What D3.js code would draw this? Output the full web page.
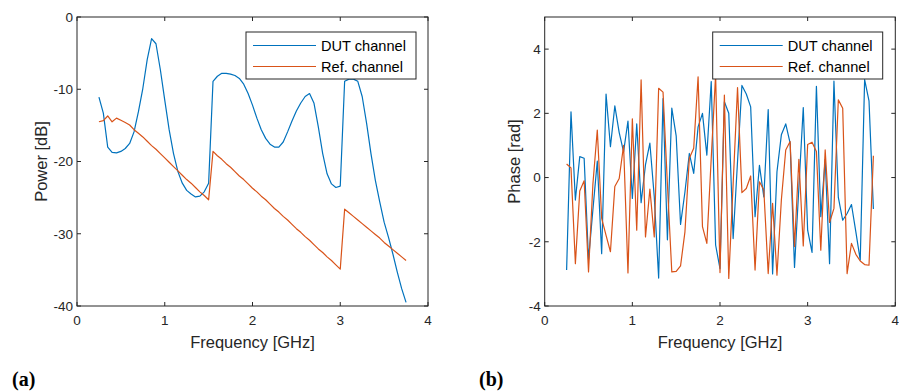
<!DOCTYPE html>
<html><head><meta charset="utf-8">
<script src="https://cdn.jsdelivr.net/npm/d3@7"></script>
<style>body{margin:0;background:#fff}svg{display:block}</style>
</head><body>
<svg id="c" width="899" height="392"></svg>
<script>
const freq = [0.25,0.30,0.35,0.40,0.45,0.50,0.55,0.60,0.65,0.70,0.75,0.80,0.85,0.90,0.95,1.00,1.05,1.10,1.15,1.20,1.25,1.30,1.35,1.40,1.45,1.50,1.55,1.60,1.65,1.70,1.75,1.80,1.85,1.90,1.95,2.00,2.05,2.10,2.15,2.20,2.25,2.30,2.35,2.40,2.45,2.50,2.55,2.60,2.65,2.70,2.75,2.80,2.85,2.90,2.95,3.00,3.05,3.10,3.15,3.20,3.25,3.30,3.35,3.40,3.45,3.50,3.55,3.60,3.65,3.70,3.75];
const dutPower = [-11.1,-13.3,-18.0,-18.75,-18.8,-18.6,-18.2,-17.5,-15.9,-13.1,-9.9,-5.9,-3.0,-3.7,-7.3,-11.5,-15.6,-18.9,-21.4,-23.0,-24.0,-24.5,-24.9,-24.8,-24.2,-23.0,-8.9,-8.2,-7.8,-7.8,-7.9,-8.1,-8.5,-9.3,-10.6,-12.2,-14.0,-15.6,-16.8,-17.6,-18.0,-18.0,-17.3,-15.9,-14.4,-13.0,-11.9,-11.0,-10.6,-11.9,-15.2,-18.9,-21.7,-23.1,-23.6,-23.4,-8.9,-8.6,-8.6,-8.9,-11.0,-14.7,-18.9,-22.6,-25.6,-28.4,-30.5,-32.8,-35.3,-37.6,-39.5];
const refPower = [-14.5,-14.35,-13.7,-14.5,-14.0,-14.3,-14.6,-14.95,-15.6,-16.1,-16.6,-17.2,-17.8,-18.3,-18.9,-19.5,-20.1,-20.7,-21.3,-21.9,-22.5,-23.0,-23.6,-24.2,-24.7,-25.3,-18.6,-19.2,-19.7,-20.3,-20.8,-21.4,-22.0,-22.5,-23.1,-23.7,-24.2,-24.8,-25.3,-25.9,-26.5,-27.0,-27.6,-28.1,-28.7,-29.3,-29.8,-30.4,-30.9,-31.5,-32.1,-32.6,-33.2,-33.7,-34.3,-34.9,-26.6,-27.1,-27.6,-28.1,-28.6,-29.1,-29.6,-30.1,-30.6,-31.2,-31.7,-32.2,-32.7,-33.2,-33.7];
const dutPhase = [-2.88,2.05,-0.70,0.65,0.60,-2.56,-1.0,0.51,-2.37,2.60,0.96,2.23,1.40,0.80,1.76,-0.65,1.67,-0.78,0.40,1.07,-0.60,-3.13,2.46,-1.94,2.16,1.30,-1.46,-0.45,0.75,0.13,1.58,2.00,0.70,2.99,-2.10,-2.84,2.36,2.00,-1.90,0.50,2.87,2.60,2.20,-1.22,0.38,-0.60,2.12,-3.00,0.18,1.33,1.67,1.07,-2.80,-0.30,2.18,-1.64,-2.33,2.84,-1.22,0.57,-2.68,3.00,-0.62,-1.33,-1.12,-0.84,-1.69,-2.57,3.05,2.39,-0.98];
const refPhase = [0.42,0.30,-2.68,-0.42,-0.10,-2.94,-0.20,1.48,-1.27,-1.80,-2.31,-0.28,-0.03,1.00,-2.97,1.83,-1.64,3.04,-1.85,-0.36,-1.85,2.78,2.66,-0.20,-2.94,-2.92,-2.75,-1.69,0.60,0.91,3.14,-1.53,-2.05,0.60,3.20,-2.96,2.57,-3.14,-0.20,2.80,-0.47,-0.34,0.05,-2.88,-0.13,-0.39,-2.99,-0.80,-3.04,-0.70,0.86,1.12,-2.15,0.57,-2.13,1.03,1.10,0.81,-2.26,0.86,-1.40,-0.96,2.42,2.16,-2.99,-2.05,-2.39,-2.60,-2.71,-2.73,0.68];
const xTicks = [0,1,2,3,4];
const powerTicks = [-40,-30,-20,-10,0];
const phaseTicks = [-4,-2,0,2,4];
const seriesNames = ["DUT channel","Ref. channel"];
const colors = ["#0072BD","#D95319"];

const svg = d3.select("#c");
const AX = "#262626";
const FONT = "'Liberation Sans', Arial, Helvetica, sans-serif";

function panel(o){
  const g = svg.append("g");
  const x = d3.scaleLinear().domain([0,4]).range([o.x0,o.x1]);
  const y = d3.scaleLinear().domain(o.ydom).range([306,17]);
  const tl = 4;
  // lines
  const line = d3.line().x((d,i)=>x(freq[i])).y(d=>y(d));
  o.series.forEach((s,i)=>{
    g.append("path").datum(s).attr("d",line).attr("fill","none")
      .attr("stroke",colors[i]).attr("stroke-width",1.2).attr("stroke-linejoin","round");
  });
  // box
  g.append("rect").attr("x",o.x0).attr("y",17).attr("width",o.x1-o.x0).attr("height",289)
    .attr("fill","none").attr("stroke",AX).attr("stroke-width",1);
  // ticks
  xTicks.forEach(t=>{
    g.append("line").attr("x1",x(t)).attr("x2",x(t)).attr("y1",306).attr("y2",306-tl).attr("stroke",AX);
    g.append("line").attr("x1",x(t)).attr("x2",x(t)).attr("y1",17).attr("y2",17+tl).attr("stroke",AX);
    g.append("text").attr("x",x(t)).attr("y",325).attr("text-anchor","middle")
      .attr("font-family",FONT).attr("font-size",13.5).attr("fill",AX).text(t);
  });
  o.yticks.forEach(t=>{
    g.append("line").attr("x1",o.x0).attr("x2",o.x0+tl).attr("y1",y(t)).attr("y2",y(t)).attr("stroke",AX);
    g.append("line").attr("x1",o.x1).attr("x2",o.x1-tl).attr("y1",y(t)).attr("y2",y(t)).attr("stroke",AX);
    g.append("text").attr("x",o.x0-4).attr("y",y(t)).attr("dy","0.36em").attr("text-anchor","end")
      .attr("font-family",FONT).attr("font-size",13.5).attr("fill",AX).text(t);
  });
  // axis labels
  g.append("text").attr("x",(o.x0+o.x1)/2).attr("y",348).attr("text-anchor","middle")
    .attr("font-family",FONT).attr("font-size",16.5).attr("fill",AX).text("Frequency [GHz]");
  g.append("text").attr("transform",`translate(${o.ylx},161.5) rotate(-90)`).attr("text-anchor","middle")
    .attr("font-family",FONT).attr("font-size",16.5).attr("fill",AX).text(o.ylabel);
  // legend
  const lx0 = o.leg, lx1 = o.leg+170;
  g.append("rect").attr("x",lx0).attr("y",32).attr("width",lx1-lx0).attr("height",47)
    .attr("fill","#fff").attr("stroke",AX).attr("stroke-width",1);
  seriesNames.forEach((n,i)=>{
    const yy = 45.5 + i*21;
    g.append("line").attr("x1",lx0+7).attr("x2",lx0+70).attr("y1",yy).attr("y2",yy)
      .attr("stroke",colors[i]).attr("stroke-width",1.2);
    g.append("text").attr("x",lx0+75).attr("y",yy).attr("dy","0.36em")
      .attr("font-family",FONT).attr("font-size",14.6).attr("fill","#000").text(n);
  });
  // panel letter
  svg.append("text").attr("x",o.letx).attr("y",386).attr("font-family","'Liberation Serif','Times New Roman',serif")
    .attr("font-weight","bold").attr("font-size",20).attr("fill","#000").text(o.letter);
}

panel({x0:77,x1:428,ydom:[-40,0],yticks:powerTicks,series:[dutPower,refPower],ylabel:"Power [dB]",ylx:47,leg:246,letter:"(a)",letx:12});
panel({x0:544.7,x1:895.3,ydom:[-4,5],yticks:phaseTicks,series:[dutPhase,refPhase],ylabel:"Phase [rad]",ylx:520,leg:712.7,letter:"(b)",letx:479});
</script>
</body></html>
